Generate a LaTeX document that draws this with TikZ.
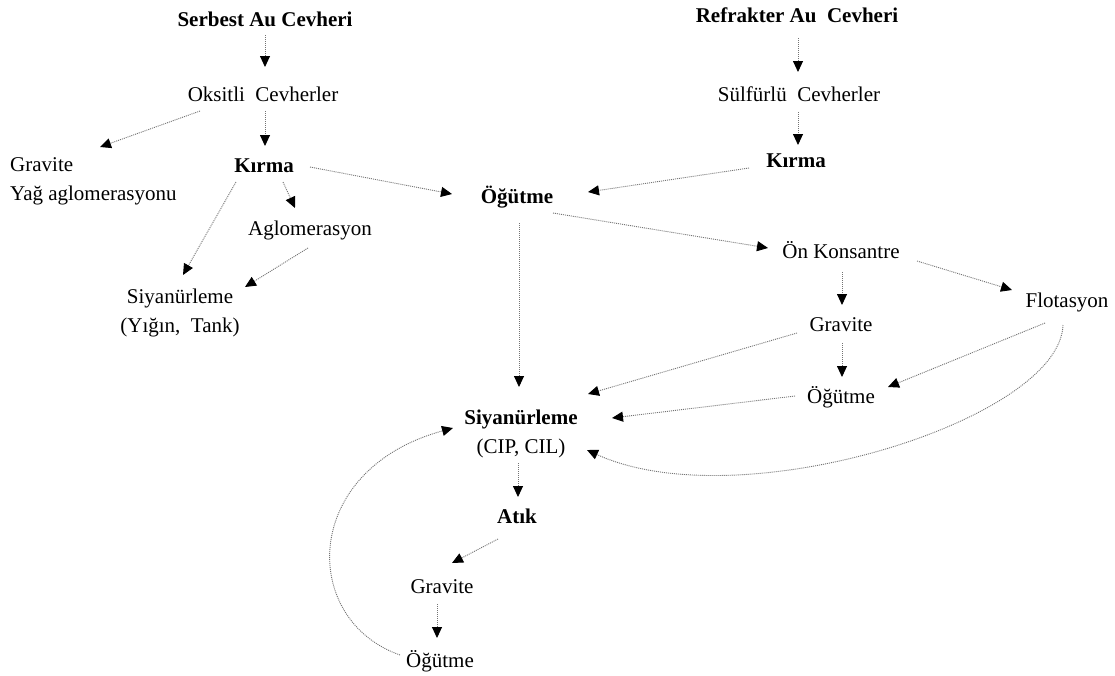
\documentclass[tikz,border=0pt]{standalone}
\usepackage{fontspec}
\setmainfont{Liberation Serif}
\usetikzlibrary{arrows.meta,calc}
\tikzset{
  lbl/.style={inner sep=0pt, anchor=base, font=\fontsize{21}{29}\selectfont},
  blbl/.style={lbl, font=\fontsize{21}{29}\selectfont\bfseries},
  flow/.style={draw=black!55, line width=0.9pt, dash pattern=on 1pt off 1pt,
    -{Triangle[length=11pt,width=10pt,black]}},
}
\begin{document}
\begin{tikzpicture}[x=1pt,y=-1pt]
\useasboundingbox (0,0) rectangle (1115,675);
% left branch
\node[blbl] (ser) at (265,26) {Serbest Au Cevheri};
\node[lbl] (oks) at (263,101) {Oksitli\ \ Cevherler};
\node[lbl, anchor=base west] (grl) at (10,171) {\begin{tabular}[t]{@{}l@{}}Gravite\\Yağ aglomerasyonu\end{tabular}};
\node[blbl] (kir) at (264,172) {Kırma};
\node[lbl] (agl) at (310,235) {Aglomerasyon};
\node[lbl] (siy1) at (180,303) {\begin{tabular}[t]{@{}c@{}}Siyanürleme\\(Yığın,\ \ Tank)\end{tabular}};
\node[blbl] (ogu) at (517,203) {Öğütme};
% right branch
\node[blbl] (ref) at (797,22) {Refrakter Au\ \ Cevheri};
\node[lbl] (sul) at (799,101) {Sülfürlü\ \ Cevherler};
\node[blbl] (kir2) at (796,167) {Kırma};
\node[lbl] (onk) at (841,258) {Ön Konsantre};
\node[lbl] (flo) at (1067,307) {Flotasyon};
\node[lbl] (gra2) at (841,331) {Gravite};
\node[lbl] (ogu2) at (841,403) {Öğütme};
% bottom
\node[lbl] (siy2) at (521,424) {\begin{tabular}[t]{@{}c@{}}\textbf{Siyanürleme}\\(CIP, CIL)\end{tabular}};
\node[blbl] (atik) at (517,523) {Atık};
\node[lbl] (gra3) at (442,593) {Gravite};
\node[lbl] (ogu3) at (440,667) {Öğütme};
% connectors
\draw[flow] ($(ser.base)+(0,9)$) -- ($(oks.base)+(2,-34)$);
\draw[flow] ($(oks.base)+(-63,10)$) -- ($(grl.base west)+(90,-24)$);
\draw[flow] ($(oks.base)+(2,10)$) -- ($(kir.base)+(1,-26)$);
\draw[flow] ($(kir.base)+(46,-5)$) -- ($(ogu.base)+(-65,-9)$);
\draw[flow] ($(kir.base)+(19,10)$) -- ($(agl.base)+(-15,-27)$);
\draw[flow] ($(kir.base)+(-28,10)$) -- ($(siy1.base)+(3,-28)$);
\draw[flow] ($(agl.base)+(-2,13)$) -- ($(siy1.base)+(65,-16)$);
\draw[flow] ($(ref.base)+(1,16)$) -- ($(sul.base)+(-1,-29)$);
\draw[flow] ($(sul.base)+(-1,11)$) -- ($(kir2.base)+(2,-22)$);
\draw[flow] ($(kir2.base)+(-47,1)$) -- ($(ogu.base)+(71,-11)$);
\draw[flow] ($(ogu.base)+(36,10)$) -- ($(onk.base)+(-73,-10)$);
\draw[flow] ($(ogu.base)+(2,20)$) -- ($(siy2.base)+(-2,-37)$);
\draw[flow] ($(onk.base)+(76,3)$) -- ($(flo.base)+(-55,-17)$);
\draw[flow] ($(onk.base)+(1,14)$) -- ($(gra2.base)+(1,-26)$);
\draw[flow] ($(gra2.base)+(-44,2)$) -- ($(siy2.base)+(67,-30)$);
\draw[flow] ($(gra2.base)+(1,12)$) -- ($(ogu2.base)+(1,-26)$);
\draw[flow] ($(flo.base)+(-22,16)$) -- ($(ogu2.base)+(47,-16)$);
\draw[flow] ($(ogu2.base)+(-46,-7)$) -- ($(siy2.base)+(91,-6)$);
\draw[flow] ($(flo.base)+(-4,18)$) .. controls (1060,420) and (740,520) .. ($(siy2.base)+(66,26)$);
\draw[flow] ($(siy2.base)+(-3,39)$) -- ($(atik.base)+(1,-26)$);
\draw[flow] ($(atik.base)+(-19,16)$) -- ($(gra3.base)+(10,-30)$);
\draw[flow] ($(gra3.base)+(-5,11)$) -- ($(ogu3.base)+(-3,-29)$);
\draw[flow] ($(ogu3.base)+(-40,-12)$) .. controls (300,620) and (300,470) .. ($(siy2.base)+(-68,4)$);
\end{tikzpicture}
\end{document}
